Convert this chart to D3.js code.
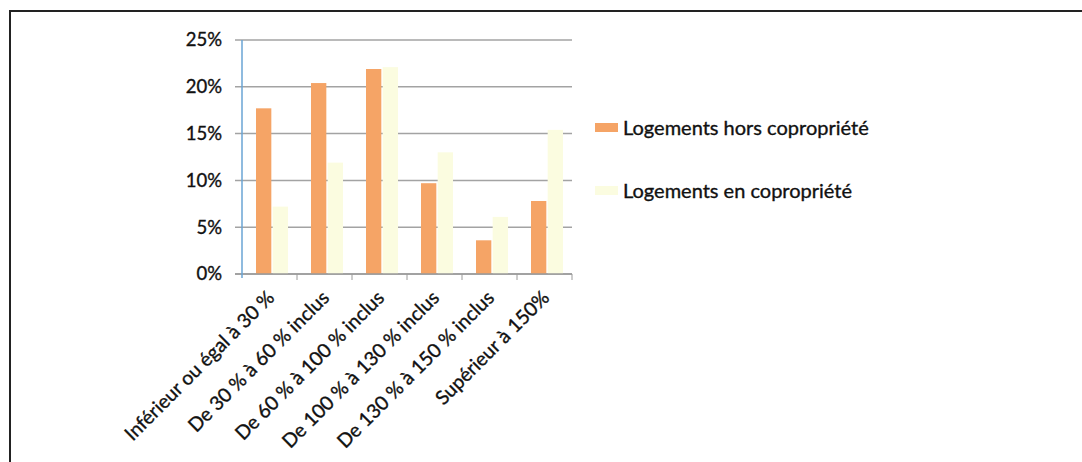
<!DOCTYPE html>
<html>
<head>
<meta charset="utf-8">
<script src="https://cdn.jsdelivr.net/npm/d3@7"></script>
<style>
  html, body { margin: 0; padding: 0; background: #fff; }
  svg { display: block; }
  text { font-family: Lato, "Open Sans", sans-serif; fill: #111; stroke: #111; stroke-width: 0.35px; }
</style>
</head>
<body>
<svg id="chart" width="1082" height="462"></svg>
<script>
const categories = [
  "Inférieur ou égal à 30 %",
  "De 30 % à 60 % inclus",
  "De 60 % à 100 % inclus",
  "De 100 % à 130 % inclus",
  "De 130 % à 150 % inclus",
  "Supérieur à 150%"
];
const seriesNames = ["Logements hors copropriété", "Logements en copropriété"];
const horsCopro = [17.7, 20.4, 21.9, 9.7, 3.6, 7.8];
const enCopro = [7.2, 11.9, 22.1, 13.0, 6.1, 15.4];
const yTicks = [0, 5, 10, 15, 20, 25];
const colors = ["#f5a466", "#fbfce0"];

const svg = d3.select("#chart");

// frame
svg.append("line").attr("x1", 10).attr("x2", 1082).attr("y1", 11).attr("y2", 11)
  .attr("stroke", "#222").attr("stroke-width", 2);
svg.append("line").attr("x1", 10).attr("x2", 10).attr("y1", 10).attr("y2", 462)
  .attr("stroke", "#222").attr("stroke-width", 2);

const x0 = d3.scaleBand().domain(categories).range([242, 572]);
const y = d3.scaleLinear().domain([0, 25]).range([274, 40]);

const series = [horsCopro, enCopro];
const x1 = d3.scaleBand().domain([0, 1]).range([14, 46]).paddingInner(0.08);

// gridlines
svg.append("g").selectAll("line").data(yTicks).join("line")
  .attr("x1", 235).attr("x2", 572)
  .attr("y1", d => y(d)).attr("y2", d => y(d))
  .attr("stroke", "#a3a3a3").attr("stroke-width", 1.5);

// bars
categories.forEach((c, i) => {
  series.forEach((s, k) => {
    svg.append("rect")
      .attr("x", x0(c) + x1(k))
      .attr("y", y(s[i]))
      .attr("width", x1.bandwidth())
      .attr("height", y(0) - y(s[i]))
      .attr("fill", colors[k]);
  });
});

// x axis
svg.append("line").attr("x1", 235).attr("x2", 572).attr("y1", y(0)).attr("y2", y(0))
  .attr("stroke", "#9a9a9a").attr("stroke-width", 1.5);
svg.append("g").selectAll("line").data(categories).join("line")
  .attr("x1", d => x0(d) + x0.bandwidth()).attr("x2", d => x0(d) + x0.bandwidth())
  .attr("y1", y(0)).attr("y2", y(0) + 6)
  .attr("stroke", "#9a9a9a").attr("stroke-width", 1);

// y axis
svg.append("line").attr("x1", 242).attr("x2", 242).attr("y1", y(25)).attr("y2", y(0) + 4)
  .attr("stroke", "#6aa4d4").attr("stroke-width", 1.5);

// y labels
svg.append("g").selectAll("text").data(yTicks).join("text")
  .attr("x", 222).attr("y", d => y(d)).attr("dy", "0.35em")
  .attr("text-anchor", "end").attr("font-size", 18.5)
  .text(d => d + "%");

// x labels
svg.append("g").selectAll("text").data(categories).join("text")
  .attr("text-anchor", "end").attr("font-size", 19.5)
  .attr("transform", d => `translate(${x0(d) + x0.bandwidth() / 2 + 6},${y(0) + 25}) rotate(-45)`)
  .text(d => d);

// legend
const leg = svg.append("g");
seriesNames.forEach((n, k) => {
  const ly = [128, 191][k];
  leg.append("rect").attr("x", 595).attr("y", ly - 5).attr("width", 23).attr("height", 9)
    .attr("fill", colors[k]);
  leg.append("text").attr("x", 623).attr("y", ly).attr("dy", "0.35em")
    .attr("font-size", 20).text(n);
});
</script>
</body>
</html>
